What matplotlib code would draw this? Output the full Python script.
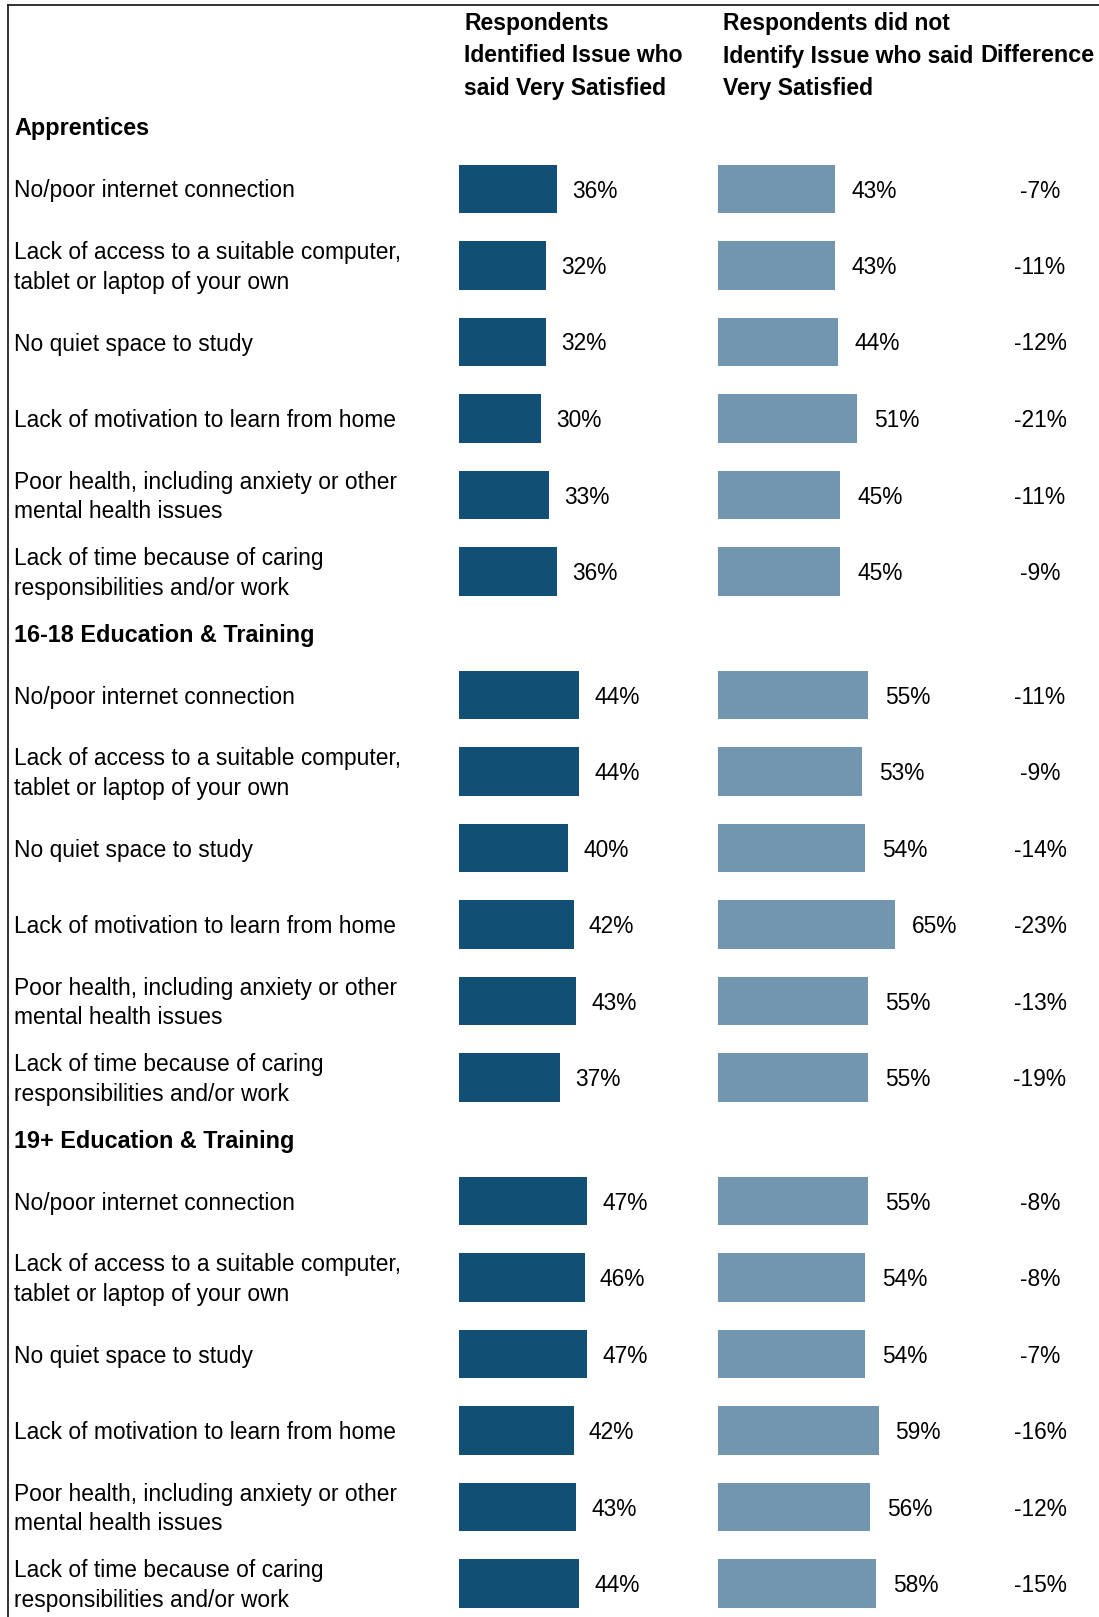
import matplotlib.pyplot as plt
from matplotlib.lines import Line2D

plt.rcParams['font.family'] = ['Liberation Sans', 'DejaVu Sans']

# groups and the six issues asked about in each
groups = ["Apprentices", "16-18 Education & Training", "19+ Education & Training"]
issues = [
    "No/poor internet connection",
    "Lack of access to a suitable computer,\ntablet or laptop of your own",
    "No quiet space to study",
    "Lack of motivation to learn from home",
    "Poor health, including anxiety or other\nmental health issues",
    "Lack of time because of caring\nresponsibilities and/or work",
]

# % very satisfied, per group
identified = [
    [36, 32, 32, 30, 33, 36],
    [44, 44, 40, 42, 43, 37],
    [47, 46, 47, 42, 43, 44],
]
not_identified = [
    [43, 43, 44, 51, 45, 45],
    [55, 53, 54, 65, 55, 55],
    [55, 54, 54, 59, 56, 58],
]
difference = [
    [-7, -11, -12, -21, -11, -9],
    [-11, -9, -14, -23, -13, -19],
    [-8, -8, -7, -16, -12, -15],
]

col_headers = ["Respondents\nIdentified Issue who\nsaid Very Satisfied",
               "Respondents did not\nIdentify Issue who said\nVery Satisfied"]
diff_header = "Difference"

dark = "#124F74"
light = "#7296AF"

W, H = 1099, 1617
fig = plt.figure(figsize=(W / 100, H / 100), dpi=100)
ax = fig.add_axes([0, 0, 1, 1])
ax.set_xlim(0, W)
ax.set_ylim(H, 0)
ax.axis("off")

# layout (pixels)
first_header = 126
row_pitch = 76.5
group_pitch = 506
header_gap = 63
px_per_pct = 2.73
bar_h = 48.5
txt_dy = 2  # nudge text down so it sits level with the bars

ax_d = fig.add_axes([459 / W, 0, 250 / W, 1], sharey=ax)
ax_l = fig.add_axes([717.5 / W, 0, 250 / W, 1], sharey=ax)
for a in (ax_d, ax_l):
    a.set_xlim(0, 250 / px_per_pct)
    a.axis("off")
    a.patch.set_alpha(0)

fs = 16.4
hfs = 16.8
for g, name in enumerate(groups):
    gy = first_header + g * group_pitch
    ax.text(14, gy + 3, name, fontsize=hfs, fontweight="bold", va="center", ha="left")
    ys = [gy + header_gap + k * row_pitch for k in range(len(issues))]
    for k, label in enumerate(issues):
        ax.text(14, ys[k] + txt_dy, label, fontsize=fs, va="center", ha="left", linespacing=1.38)
        ax.text(1040, ys[k] + txt_dy, f"{difference[g][k]}%", fontsize=fs, va="center", ha="center")
    ax_d.barh(ys, identified[g], height=bar_h, left=0, color=dark)
    ax_l.barh(ys, not_identified[g], height=bar_h, left=0, color=light)
    for y, v in zip(ys, identified[g]):
        ax_d.text(v + 15 / px_per_pct, y + txt_dy, f"{v}%", fontsize=fs, va="center", ha="left")
    for y, v in zip(ys, not_identified[g]):
        ax_l.text(v + 17 / px_per_pct, y + txt_dy, f"{v}%", fontsize=fs, va="center", ha="left")

# column headings
ax.text(464, 56, col_headers[0], fontsize=16.45, fontweight="bold", va="center", ha="left", linespacing=1.53)
ax.text(723, 56, col_headers[1], fontsize=16.45, fontweight="bold", va="center", ha="left", linespacing=1.53)
ax.text(980, 56, diff_header, fontsize=hfs, fontweight="bold", va="center", ha="left")

# frame on top and left edges
fig.add_artist(Line2D([8 / W, 1], [1 - 5 / H, 1 - 5 / H], color="#222222", lw=1.3))
fig.add_artist(Line2D([8 / W, 8 / W], [0, 1 - 5 / H], color="#222222", lw=1.3))

fig.savefig("out.png", dpi=100)
